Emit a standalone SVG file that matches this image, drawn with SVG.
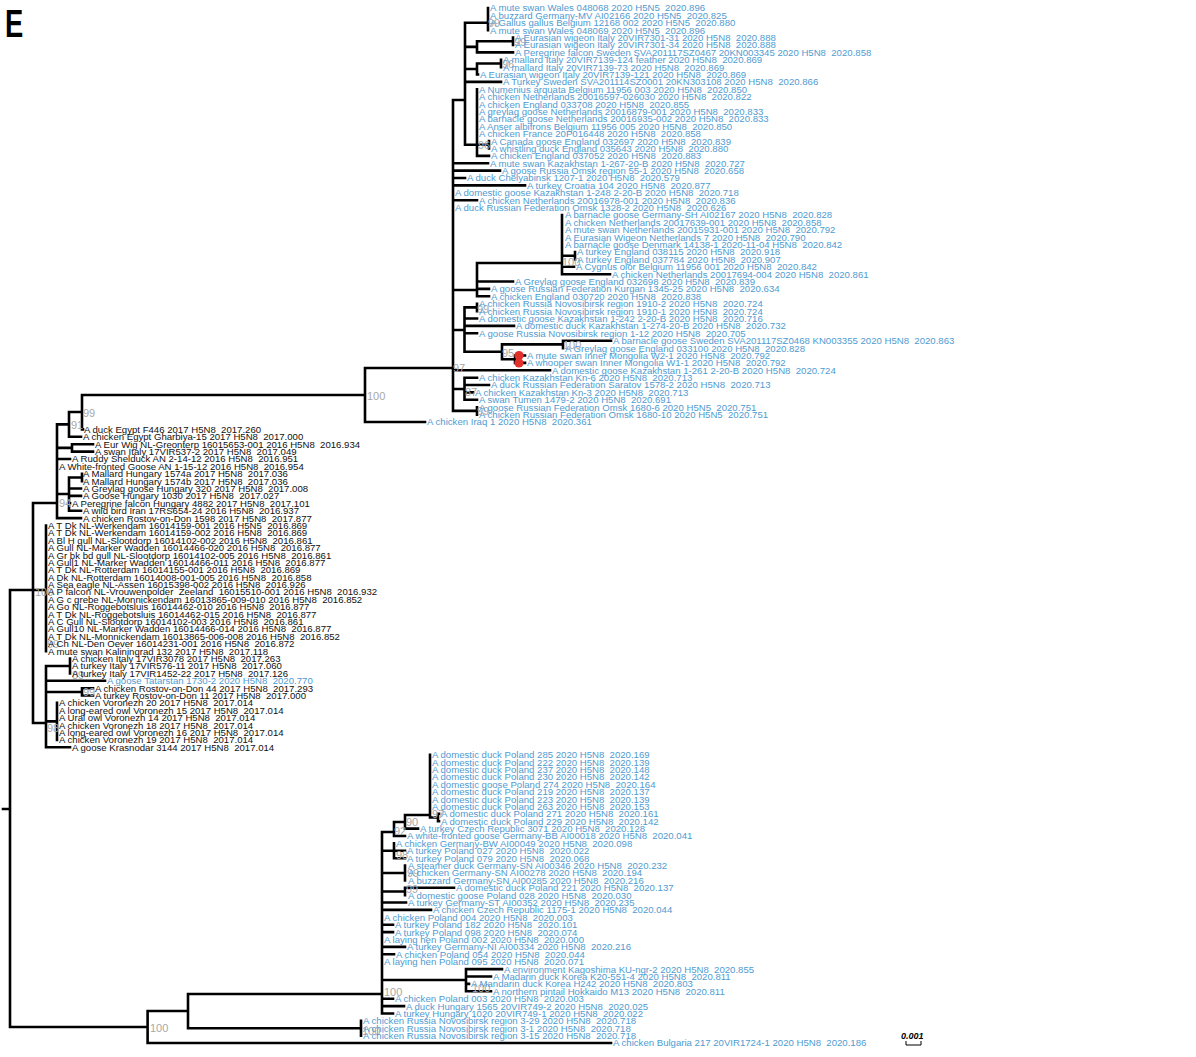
<svg xmlns="http://www.w3.org/2000/svg" width="1196" height="1057" viewBox="0 0 1196 1057" xml:space="preserve">
<style>
text{font-family:"Liberation Sans",Arial,sans-serif;white-space:pre}
.b{font-size:9.6px;fill:#4f9bd1}
.k{font-size:9.6px;fill:#111}
.s{font-size:11px;fill:#a8a8a8}
.br{fill:none;stroke:#000;stroke-width:2.6;stroke-linecap:square}
</style>
<rect width="1196" height="1057" fill="#fff"/>
<text transform="translate(5,37) scale(0.72,1)" style="font-family:'Liberation Sans',sans-serif;font-size:38px;font-weight:bold;fill:#000">E</text>
<g id="connectors">
<path class="br" d="M3,809H10 M10,590V1027 M10,590H46 M10,1027H147.6
M33,503V723 M33,503H57 M33,723H46
M46,525.5V651.2
M57,424.4V518.1 M57,424.4H69
M69,412V436.8 M69,436.8H81 M69,412H82
M82,395V429.4 M82,429.4H83 M82,395H365
M57,447.9H72 M72,444.2V451.6 M72,444.2H93 M72,451.6H93
M57,459H70
M57,494H69 M69,477.5V510.7 M69,477.5H82 M82,473.8V481.2 M69,488.5H81 M69,495.9H81 M69,503.3H70 M69,510.7H81
M57,518.1H81
M46,666V747.3 M46,666H70 M70,658.6V673.4 M46,680.8H105 M46,692H82 M82,688.2V695.5 M82,688.2H93 M82,695.5H93 M46,721.4H57 M57,702.9V739.9 M46,747.3H70
M365,368V422 M365,368H453 M365,422H425
M453,100V410.9 M453,100H465
M465,22.8V144.8 M465,22.8H488 M488,8V30.2
M465,46.9H477 M477,41.3V52.4 M477,41.3H513 M513,37.6V45 M477,52.4H513
M465,69H477 M477,63.5V74.5 M477,63.5H501 M501,59.8V67.1 M477,74.5H478
M465,81.9H501
M465,144.8H489 M477,89.3V155.9 M489,141.1V148.5 M477,155.9H489
M453,163.3H488 M453,170.6H500 M453,178H465 M453,185.4H525 M453,200.2H477
M453,290H477 M477,263V296.3 M477,263H562 M562,215V274.2 M562,255.7H575 M575,252V259.4 M562,266.8H574 M562,274.2H610 M477,281.5H513 M477,288.9H489 M477,296.3H489
M453,330H464.5 M464.5,307.4V351.8 M464.5,307.4H477 M477,303.7V311.1 M464.5,318.5H477 M464.5,325.9H514 M464.5,333.3H477 M464.5,351.8H502 M502,344.4V359.2 M502,344.4H563 M563,340.7V348.1 M563,340.7H611 M502,359.2H515 M515,355.5V362.9 M515,355.5H525 M515,362.9H525
M453,370.3H550
M453,389H464.5 M464.5,377.7V399.8 M464.5,377.7H477 M464.5,385H489 M464.5,392.4H473 M464.5,399.8H477
M453,410.9H477 M477,407.2V414.6
M147.6,1011V1043 M147.6,1043H611 M147.6,1011H188 M188,994V1028.2 M188,1028.2H361 M361,1020.8V1035.6 M188,994H382 M382,832V1013.5
M382,832H394 M394,822V836 M394,836H405 M394,822H405 M405,815V828.6 M405,828.6H418 M405,815H430 M430,754.7V817.5 M430,817.5H438 M438,813.8V821.2 M438,813.8H439 M438,821.2H439
M382,850.8H394 M394,843.4V858.2 M394,850.8H405 M394,858.2H405
M382,873H405 M405,865.6V880.4
M382,891.5H405 M405,887.8V895.2 M405,887.8H454
M382,902.5H406 M382,909.9H431 M382,924.7H393 M382,932.1H393 M382,946.9H405 M382,954.3H394
M382,980H466 M466,969.1V991.3 M466,969.1H502 M466,976.5H491 M466,983.9H469 M466,991.3H491
M382,998.7H393 M382,1006.1H404 M382,1013.5H393"/>
<circle cx="519" cy="355.5" r="4.6" fill="#e2302b"/>
<circle cx="519" cy="362.9" r="4.6" fill="#e2302b"/>
</g>
<g id="support" class="s">
<text x="488" y="27">99</text>
<text x="514" y="46">99</text>
<text x="502" y="68">96</text>
<text x="478" y="149">96</text>
<text x="562" y="266">100</text>
<text x="477" y="313">99</text>
<text x="563" y="349">100</text>
<text x="502" y="357">95</text>
<text x="453" y="372">97</text>
<text x="465" y="396">87</text>
<text x="477" y="415">99</text>
<text x="367" y="400">100</text>
<text x="83" y="417">99</text>
<text x="71" y="429">91</text>
<text x="59" y="507">94</text>
<text x="35" y="596">100</text>
<text x="47" y="648">99</text>
<text x="72" y="679">89</text>
<text x="83" y="696">99</text>
<text x="47" y="732">98</text>
<text x="432" y="818">97</text>
<text x="406" y="826">90</text>
<text x="394" y="835">92</text>
<text x="396" y="859">98</text>
<text x="407" y="877">99</text>
<text x="406" y="893">99</text>
<text x="472" y="992">100</text>
<text x="384" y="996">100</text>
<text x="362" y="1035">100</text>
<text x="150" y="1032">100</text>
</g>
<g id="tips">
<g id="n0"><text class="b" x="490" y="11.4">A mute swan Wales 048068 2020 H5N5  2020.896</text></g>
<g id="n1"><text class="b" x="490" y="18.8">A buzzard Germany-MV AI02166 2020 H5N5  2020.825</text></g>
<g id="n2"><text class="b" x="490" y="26.2">A Gallus gallus Belgium 12168 002 2020 H5N5  2020.880</text></g>
<g id="n3"><text class="b" x="490" y="33.6">A mute swan Wales 048069 2020 H5N5  2020.896</text></g>
<g id="n4"><text class="b" x="515" y="41.0">A Eurasian wigeon Italy 20VIR7301-31 2020 H5N8  2020.888</text></g>
<g id="n5"><text class="b" x="515" y="48.4">A Eurasian wigeon Italy 20VIR7301-34 2020 H5N8  2020.888</text></g>
<g id="n6"><text class="b" x="515" y="55.8">A Peregrine falcon Sweden SVA201117SZ0467 20KN003345 2020 H5N8  2020.858</text></g>
<g id="n7"><text class="b" x="503" y="63.2">A mallard Italy 20VIR7139-124 feather 2020 H5N8  2020.869</text></g>
<g id="n8"><text class="b" x="503" y="70.5">A mallard Italy 20VIR7139-73 2020 H5N8  2020.869</text></g>
<g id="n9"><text class="b" x="480" y="77.9">A Eurasian wigeon Italy 20VIR7139-121 2020 H5N8  2020.869</text></g>
<g id="n10"><text class="b" x="503" y="85.3">A Turkey Sweden SVA201114SZ0001 20KN303108 2020 H5N8  2020.866</text></g>
<g id="n11"><text class="b" x="479" y="92.7">A Numenius arquata Belgium 11956 003 2020 H5N8  2020.850</text></g>
<g id="n12"><text class="b" x="479" y="100.1">A chicken Netherlands 20016597-026030 2020 H5N8  2020.822</text></g>
<g id="n13"><text class="b" x="479" y="107.5">A chicken England 033708 2020 H5N8  2020.855</text></g>
<g id="n14"><text class="b" x="479" y="114.9">A greylag goose Netherlands 20016879-001 2020 H5N8  2020.833</text></g>
<g id="n15"><text class="b" x="479" y="122.3">A barnacle goose Netherlands 20016935-002 2020 H5N8  2020.833</text></g>
<g id="n16"><text class="b" x="479" y="129.7">A Anser albifrons Belgium 11956 005 2020 H5N8  2020.850</text></g>
<g id="n17"><text class="b" x="479" y="137.1">A chicken France 20P016448 2020 H5N8  2020.858</text></g>
<g id="n18"><text class="b" x="491" y="144.5">A Canada goose England 032697 2020 H5N8  2020.839</text></g>
<g id="n19"><text class="b" x="491" y="151.9">A whistling duck England 035643 2020 H5N8  2020.880</text></g>
<g id="n20"><text class="b" x="491" y="159.3">A chicken England 037052 2020 H5N8  2020.883</text></g>
<g id="n21"><text class="b" x="490" y="166.7">A mute swan Kazakhstan 1-267-20-B 2020 H5N8  2020.727</text></g>
<g id="n22"><text class="b" x="502" y="174.0">A goose Russia Omsk region 55-1 2020 H5N8  2020.658</text></g>
<g id="n23"><text class="b" x="467" y="181.4">A duck Chelyabinsk 1207-1 2020 H5N8  2020.579</text></g>
<g id="n24"><text class="b" x="527" y="188.8">A turkey Croatia 104 2020 H5N8  2020.877</text></g>
<g id="n25"><text class="b" x="455" y="196.2">A domestic goose Kazakhstan 1-248 2-20-B 2020 H5N8  2020.718</text></g>
<g id="n26"><text class="b" x="479" y="203.6">A chicken Netherlands 20016978-001 2020 H5N8  2020.836</text></g>
<g id="n27"><text class="b" x="455" y="211.0">A duck Russian Federation Omsk 1328-2 2020 H5N8  2020.626</text></g>
<g id="n28"><text class="b" x="565" y="218.4">A barnacle goose Germany-SH AI02167 2020 H5N8  2020.828</text></g>
<g id="n29"><text class="b" x="565" y="225.8">A chicken Netherlands 20017639-001 2020 H5N8  2020.858</text></g>
<g id="n30"><text class="b" x="565" y="233.2">A mute swan Netherlands 20015931-001 2020 H5N8  2020.792</text></g>
<g id="n31"><text class="b" x="565" y="240.6">A Eurasian Wigeon Netherlands 7 2020 H5N8  2020.790</text></g>
<g id="n32"><text class="b" x="565" y="248.0">A barnacle goose Denmark 14138-1 2020-11-04 H5N8  2020.842</text></g>
<g id="n33"><text class="b" x="577" y="255.4">A turkey England 038115 2020 H5N8  2020.918</text></g>
<g id="n34"><text class="b" x="577" y="262.8">A turkey England 037784 2020 H5N8  2020.907</text></g>
<g id="n35"><text class="b" x="576" y="270.2">A Cygnus olor Belgium 11956 001 2020 H5N8  2020.842</text></g>
<g id="n36"><text class="b" x="612" y="277.6">A chicken Netherlands 20017694-004 2020 H5N8  2020.861</text></g>
<g id="n37"><text class="b" x="515" y="284.9">A Greylag goose England 032698 2020 H5N8  2020.839</text></g>
<g id="n38"><text class="b" x="491" y="292.3">A goose Russian Federation Kurgan 1345-25 2020 H5N8  2020.634</text></g>
<g id="n39"><text class="b" x="491" y="299.7">A chicken England 030720 2020 H5N8  2020.838</text></g>
<g id="n40"><text class="b" x="479" y="307.1">A chicken Russia Novosibirsk region 1910-2 2020 H5N8  2020.724</text></g>
<g id="n41"><text class="b" x="479" y="314.5">A chicken Russia Novosibirsk region 1910-1 2020 H5N8  2020.724</text></g>
<g id="n42"><text class="b" x="479" y="321.9">A domestic goose Kazakhstan 1-242 2-20-B 2020 H5N8  2020.716</text></g>
<g id="n43"><text class="b" x="516" y="329.3">A domestic duck Kazakhstan 1-274-20-B 2020 H5N8  2020.732</text></g>
<g id="n44"><text class="b" x="479" y="336.7">A goose Russia Novosibirsk region 1-12 2020 H5N8  2020.705</text></g>
<g id="n45"><text class="b" x="613" y="344.1">A barnacle goose Sweden SVA201117SZ0468 KN003355 2020 H5N8  2020.863</text></g>
<g id="n46"><text class="b" x="565" y="351.5">A Greylag goose England 033100 2020 H5N8  2020.828</text></g>
<g id="n47"><text class="b" x="527" y="358.9">A mute swan Inner Mongolia W2-1 2020 H5N8  2020.792</text></g>
<g id="n48"><text class="b" x="527" y="366.3">A whooper swan Inner Mongolia W1-1 2020 H5N8  2020.792</text></g>
<g id="n49"><text class="b" x="552" y="373.7">A domestic goose Kazakhstan 1-261 2-20-B 2020 H5N8  2020.724</text></g>
<g id="n50"><text class="b" x="479" y="381.1">A chicken Kazakhstan Kn-6 2020 H5N8  2020.713</text></g>
<g id="n51"><text class="b" x="491" y="388.4">A duck Russian Federation Saratov 1578-2 2020 H5N8  2020.713</text></g>
<g id="n52"><text class="b" x="475" y="395.8">A chicken Kazakhstan Kn-3 2020 H5N8  2020.713</text></g>
<g id="n53"><text class="b" x="479" y="403.2">A swan Tumen 1479-2 2020 H5N8  2020.691</text></g>
<g id="n54"><text class="b" x="479" y="410.6">A goose Russian Federation Omsk 1680-6 2020 H5N5  2020.751</text></g>
<g id="n55"><text class="b" x="479" y="418.0">A chicken Russian Federation Omsk 1680-10 2020 H5N5  2020.751</text></g>
<g id="n56"><text class="b" x="427" y="425.4">A chicken Iraq 1 2020 H5N8  2020.361</text></g>
<g id="n57"><text class="k" x="84" y="432.8">A duck Egypt F446 2017 H5N8  2017.260</text></g>
<g id="n58"><text class="k" x="83" y="440.2">A chicken Egypt Gharbiya-15 2017 H5N8  2017.000</text></g>
<g id="n59"><text class="k" x="95" y="447.6">A Eur Wig NL-Greonterp 16015653-001 2016 H5N8  2016.934</text></g>
<g id="n60"><text class="k" x="95" y="455.0">A swan Italy 17VIR537-2 2017 H5N8  2017.049</text></g>
<g id="n61"><text class="k" x="72" y="462.4">A Ruddy Shelduck AN 2-14-12 2016 H5N8  2016.951</text></g>
<g id="n62"><text class="k" x="59" y="469.8">A White-fronted Goose AN 1-15-12 2016 H5N8  2016.954</text></g>
<g id="n63"><text class="k" x="83" y="477.2">A Mallard Hungary 1574a 2017 H5N8  2017.036</text></g>
<g id="n64"><text class="k" x="83" y="484.6">A Mallard Hungary 1574b 2017 H5N8  2017.036</text></g>
<g id="n65"><text class="k" x="83" y="491.9">A Greylag goose Hungary 320 2017 H5N8  2017.008</text></g>
<g id="n66"><text class="k" x="83" y="499.3">A Goose Hungary 1030 2017 H5N8  2017.027</text></g>
<g id="n67"><text class="k" x="72" y="506.7">A Peregrine falcon Hungary 4882 2017 H5N8  2017.101</text></g>
<g id="n68"><text class="k" x="83" y="514.1">A wild bird Iran 17RS654-24 2016 H5N8  2016.937</text></g>
<g id="n69"><text class="k" x="83" y="521.5">A chicken Rostov-on-Don 1598 2017 H5N8  2017.877</text></g>
<g id="n70"><text class="k" x="48" y="528.9">A T Dk NL-Werkendam 16014159-001 2016 H5N5  2016.869</text></g>
<g id="n71"><text class="k" x="48" y="536.3">A T Dk NL-Werkendam 16014159-002 2016 H5N8  2016.869</text></g>
<g id="n72"><text class="k" x="48" y="543.7">A Bl H gull NL-Slootdorp 16014102-002 2016 H5N8  2016.861</text></g>
<g id="n73"><text class="k" x="48" y="551.1">A Gull NL-Marker Wadden 16014466-020 2016 H5N8  2016.877</text></g>
<g id="n74"><text class="k" x="48" y="558.5">A Gr bk bd gull NL-Slootdorp 16014102-005 2016 H5N8  2016.861</text></g>
<g id="n75"><text class="k" x="48" y="565.9">A Gull1 NL-Marker Wadden 16014466-011 2016 H5N8  2016.877</text></g>
<g id="n76"><text class="k" x="48" y="573.3">A T Dk NL-Rotterdam 16014155-001 2016 H5N8  2016.869</text></g>
<g id="n77"><text class="k" x="48" y="580.7">A Dk NL-Rotterdam 16014008-001-005 2016 H5N8  2016.858</text></g>
<g id="n78"><text class="k" x="48" y="588.1">A Sea eagle NL-Assen 16015398-002 2016 H5N8  2016.926</text></g>
<g id="n79"><text class="k" x="48" y="595.4">A P falcon NL-Vrouwenpolder  Zeeland  16015510-001 2016 H5N8  2016.932</text></g>
<g id="n80"><text class="k" x="48" y="602.8">A G c grebe NL-Monnickendam 16013865-009-010 2016 H5N8  2016.852</text></g>
<g id="n81"><text class="k" x="48" y="610.2">A Go NL-Roggebotsluis 16014462-010 2016 H5N8  2016.877</text></g>
<g id="n82"><text class="k" x="48" y="617.6">A T Dk NL-Roggebotsluis 16014462-015 2016 H5N8  2016.877</text></g>
<g id="n83"><text class="k" x="48" y="625.0">A C Gull NL-Slootdorp 16014102-003 2016 H5N8  2016.861</text></g>
<g id="n84"><text class="k" x="48" y="632.4">A Gull10 NL-Marker Wadden 16014466-014 2016 H5N8  2016.877</text></g>
<g id="n85"><text class="k" x="48" y="639.8">A T Dk NL-Monnickendam 16013865-006-008 2016 H5N8  2016.852</text></g>
<g id="n86"><text class="k" x="48" y="647.2">A Ch NL-Den Oever 16014231-001 2016 H5N8  2016.872</text></g>
<g id="n87"><text class="k" x="48" y="654.6">A mute swan Kaliningrad 132 2017 H5N8  2017.118</text></g>
<g id="n88"><text class="k" x="72" y="662.0">A chicken Italy 17VIR3078 2017 H5N8  2017.263</text></g>
<g id="n89"><text class="k" x="72" y="669.4">A turkey Italy 17VIR576-11 2017 H5N8  2017.060</text></g>
<g id="n90"><text class="k" x="72" y="676.8">A turkey Italy 17VIR1452-22 2017 H5N8  2017.126</text></g>
<g id="n91"><text class="b" x="107" y="684.2">A goose Tatarstan 1730-2 2020 H5N8  2020.770</text></g>
<g id="n92"><text class="k" x="95" y="691.6">A chicken Rostov-on-Don 44 2017 H5N8  2017.293</text></g>
<g id="n93"><text class="k" x="95" y="698.9">A turkey Rostov-on-Don 11 2017 H5N8  2017.000</text></g>
<g id="n94"><text class="k" x="59" y="706.3">A chicken Voronezh 20 2017 H5N8  2017.014</text></g>
<g id="n95"><text class="k" x="59" y="713.7">A long-eared owl Voronezh 15 2017 H5N8  2017.014</text></g>
<g id="n96"><text class="k" x="59" y="721.1">A Ural owl Voronezh 14 2017 H5N8  2017.014</text></g>
<g id="n97"><text class="k" x="59" y="728.5">A chicken Voronezh 18 2017 H5N8  2017.014</text></g>
<g id="n98"><text class="k" x="59" y="735.9">A long-eared owl Voronezh 16 2017 H5N8  2017.014</text></g>
<g id="n99"><text class="k" x="59" y="743.3">A chicken Voronezh 19 2017 H5N8  2017.014</text></g>
<g id="n100"><text class="k" x="72" y="750.7">A goose Krasnodar 3144 2017 H5N8  2017.014</text></g>
<g id="n101"><text class="b" x="432" y="758.1">A domestic duck Poland 285 2020 H5N8  2020.169</text></g>
<g id="n102"><text class="b" x="432" y="765.5">A domestic duck Poland 222 2020 H5N8  2020.139</text></g>
<g id="n103"><text class="b" x="432" y="772.9">A domestic duck Poland 237 2020 H5N8  2020.148</text></g>
<g id="n104"><text class="b" x="432" y="780.3">A domestic duck Poland 230 2020 H5N8  2020.142</text></g>
<g id="n105"><text class="b" x="432" y="787.7">A domestic goose Poland 274 2020 H5N8  2020.164</text></g>
<g id="n106"><text class="b" x="432" y="795.1">A domestic duck Poland 219 2020 H5N8  2020.137</text></g>
<g id="n107"><text class="b" x="432" y="802.5">A domestic duck Poland 223 2020 H5N8  2020.139</text></g>
<g id="n108"><text class="b" x="432" y="809.8">A domestic duck Poland 263 2020 H5N8  2020.153</text></g>
<g id="n109"><text class="b" x="441" y="817.2">A domestic duck Poland 271 2020 H5N8  2020.161</text></g>
<g id="n110"><text class="b" x="441" y="824.6">A domestic duck Poland 229 2020 H5N8  2020.142</text></g>
<g id="n111"><text class="b" x="420" y="832.0">A turkey Czech Republic 3071 2020 H5N8  2020.128</text></g>
<g id="n112"><text class="b" x="407" y="839.4">A white-fronted goose Germany-BB AI00018 2020 H5N8  2020.041</text></g>
<g id="n113"><text class="b" x="396" y="846.8">A chicken Germany-BW AI00049 2020 H5N8  2020.098</text></g>
<g id="n114"><text class="b" x="407" y="854.2">A turkey Poland 027 2020 H5N8  2020.022</text></g>
<g id="n115"><text class="b" x="407" y="861.6">A turkey Poland 079 2020 H5N8  2020.068</text></g>
<g id="n116"><text class="b" x="408" y="869.0">A steamer duck Germany-SN AI00346 2020 H5N8  2020.232</text></g>
<g id="n117"><text class="b" x="408" y="876.4">A chicken Germany-SN AI00278 2020 H5N8  2020.194</text></g>
<g id="n118"><text class="b" x="408" y="883.8">A buzzard Germany-SN AI00285 2020 H5N8  2020.216</text></g>
<g id="n119"><text class="b" x="456" y="891.2">A domestic duck Poland 221 2020 H5N8  2020.137</text></g>
<g id="n120"><text class="b" x="408" y="898.6">A domestic goose Poland 028 2020 H5N8  2020.030</text></g>
<g id="n121"><text class="b" x="408" y="905.9">A turkey Germany-ST AI00352 2020 H5N8  2020.235</text></g>
<g id="n122"><text class="b" x="433" y="913.3">A chicken Czech Republic 1175-1 2020 H5N8  2020.044</text></g>
<g id="n123"><text class="b" x="384" y="920.7">A chicken Poland 004 2020 H5N8  2020.003</text></g>
<g id="n124"><text class="b" x="395" y="928.1">A turkey Poland 182 2020 H5N8  2020.101</text></g>
<g id="n125"><text class="b" x="395" y="935.5">A turkey Poland 098 2020 H5N8  2020.074</text></g>
<g id="n126"><text class="b" x="384" y="942.9">A laying hen Poland 002 2020 H5N8  2020.000</text></g>
<g id="n127"><text class="b" x="407" y="950.3">A turkey Germany-NI AI00334 2020 H5N8  2020.216</text></g>
<g id="n128"><text class="b" x="396" y="957.7">A chicken Poland 054 2020 H5N8  2020.044</text></g>
<g id="n129"><text class="b" x="384" y="965.1">A laying hen Poland 095 2020 H5N8  2020.071</text></g>
<g id="n130"><text class="b" x="504" y="972.5">A environment Kagoshima KU-ngr-2 2020 H5N8  2020.855</text></g>
<g id="n131"><text class="b" x="493" y="979.9">A Madarin duck Korea K20-551-4 2020 H5N8  2020.811</text></g>
<g id="n132"><text class="b" x="471" y="987.3">A Mandarin duck Korea H242 2020 H5N8  2020.803</text></g>
<g id="n133"><text class="b" x="493" y="994.7">A northern pintail Hokkaido M13 2020 H5N8  2020.811</text></g>
<g id="n134"><text class="b" x="395" y="1002.1">A chicken Poland 003 2020 H5N8  2020.003</text></g>
<g id="n135"><text class="b" x="406" y="1009.5">A duck Hungary 1565 20VIR749-2 2020 H5N8  2020.025</text></g>
<g id="n136"><text class="b" x="395" y="1016.9">A turkey Hungary 1020 20VIR749-1 2020 H5N8  2020.022</text></g>
<g id="n137"><text class="b" x="363" y="1024.2">A chicken Russia Novosibirsk region 3-29 2020 H5N8  2020.718</text></g>
<g id="n138"><text class="b" x="363" y="1031.6">A chicken Russia Novosibirsk region 3-1 2020 H5N8  2020.718</text></g>
<g id="n139"><text class="b" x="363" y="1039.0">A chicken Russia Novosibirsk region 3-15 2020 H5N8  2020.718</text></g>
<g id="n140"><text class="b" x="613" y="1046.4">A chicken Bulgaria 217 20VIR1724-1 2020 H5N8  2020.186</text></g>
</g>
<g id="scale">
<text x="901" y="1039" style="font-size:9px;font-weight:bold;font-style:italic;fill:#000">0.001</text>
<path d="M906,1041V1045H921V1041" fill="none" stroke="#000" stroke-width="1"/>
</g>
</svg>
